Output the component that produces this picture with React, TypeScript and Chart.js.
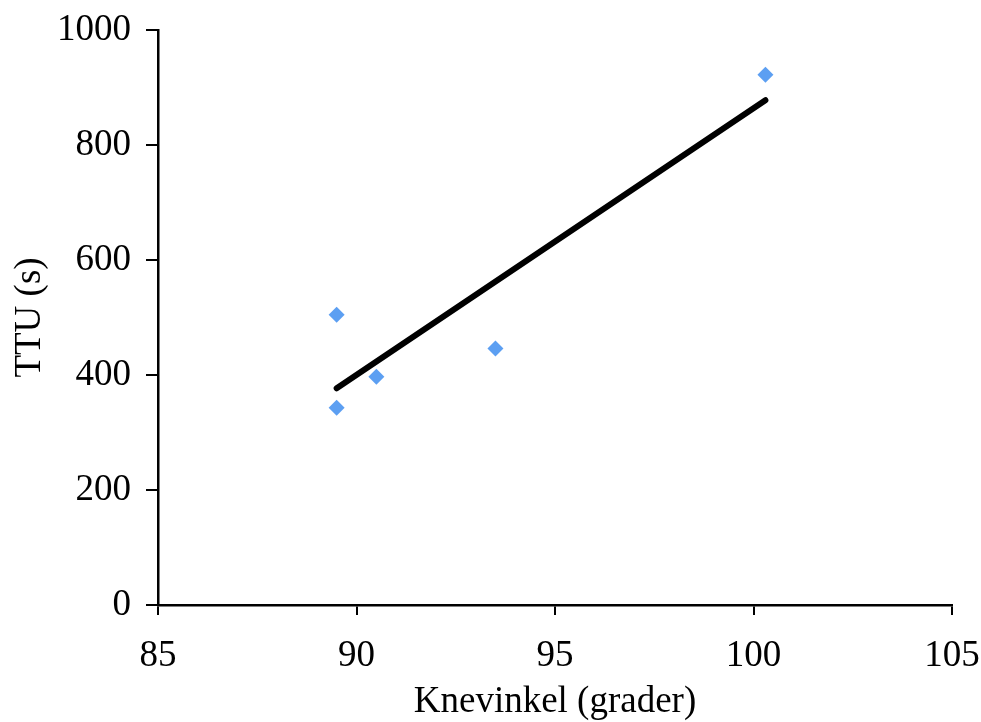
import React, { useEffect, useRef } from "react";
import { Chart, registerables } from "chart.js";

Chart.register(...registerables);

const kneAngles = [89.5, 89.5, 90.5, 93.5, 100.3];
const ttuValues = [505, 343, 397, 446, 922];
const trendX = [89.5, 100.3];
const trendY = [377, 878];

const FONT = "'Liberation Serif', 'Times New Roman', serif";

export default function App() {
  const ref = useRef<HTMLCanvasElement | null>(null);
  useEffect(() => {
    if (!ref.current) return;
    const chart = new Chart(ref.current, {
      type: "scatter",
      data: {
        datasets: [
          {
            type: "line",
            label: "Trend",
            data: trendX.map((x, i) => ({ x, y: trendY[i] })),
            borderColor: "#000000",
            borderWidth: 6,
            borderCapStyle: "round",
            pointRadius: 0,
            fill: false,
            order: 1,
          } as any,
          {
            label: "TTU",
            data: kneAngles.map((x, i) => ({ x, y: ttuValues[i] })),
            pointStyle: "rectRot",
            pointRadius: 8,
            backgroundColor: "#5C9FF2",
            borderColor: "#5C9FF2",
            borderWidth: 0,
            order: 0,
          },
        ],
      },
      options: {
        animation: false,
        responsive: true,
        maintainAspectRatio: false,
        layout: { padding: { top: 30, right: 29, left: 0, bottom: 0 } },
        plugins: { legend: { display: false }, tooltip: { enabled: false } },
        scales: {
          x: {
            type: "linear",
            min: 85,
            max: 105,
            ticks: {
              stepSize: 5,
              color: "#000",
              font: { family: FONT, size: 37 },
              padding: 19,
              callback: (v: any) => String(v),
            },
            grid: {
              display: true,
              drawOnChartArea: false,
              drawTicks: true,
              tickLength: 10,
              color: "#000",
              lineWidth: 2,
            },
            border: { display: true, color: "#000", width: 2.5 },
            title: {
              display: true,
              text: "Knevinkel (grader)",
              color: "#000",
              font: { family: FONT, size: 37 },
              padding: { top: 0, bottom: -2 },
            },
            afterFit: (s: any) => {
              s.height = 117;
              s.paddingLeft = 0;
              s.paddingRight = 0;
            },
          },
          y: {
            type: "linear",
            min: 0,
            max: 1000,
            ticks: {
              stepSize: 200,
              color: "#000",
              font: { family: FONT, size: 37 },
              padding: 15,
              callback: (v: any) => String(v),
            },
            grid: {
              display: true,
              drawOnChartArea: false,
              drawTicks: true,
              tickLength: 12,
              color: "#000",
              lineWidth: 2,
            },
            border: { display: true, color: "#000", width: 2.5 },
            title: {
              display: true,
              text: "TTU (s)",
              color: "#000",
              font: { family: FONT, size: 37 },
              padding: { top: 8, bottom: 0 },
            },
            afterFit: (s: any) => {
              s.width = 158;
              s.paddingTop = 0;
              s.paddingBottom = 0;
            },
          },
        },
      },
    });
    return () => chart.destroy();
  }, []);
  return (
    <div
      style={{
        position: "fixed",
        left: 0,
        top: 0,
        width: 981,
        height: 722,
        background: "#fff",
      }}
    >
      <canvas ref={ref} />
    </div>
  );
}
